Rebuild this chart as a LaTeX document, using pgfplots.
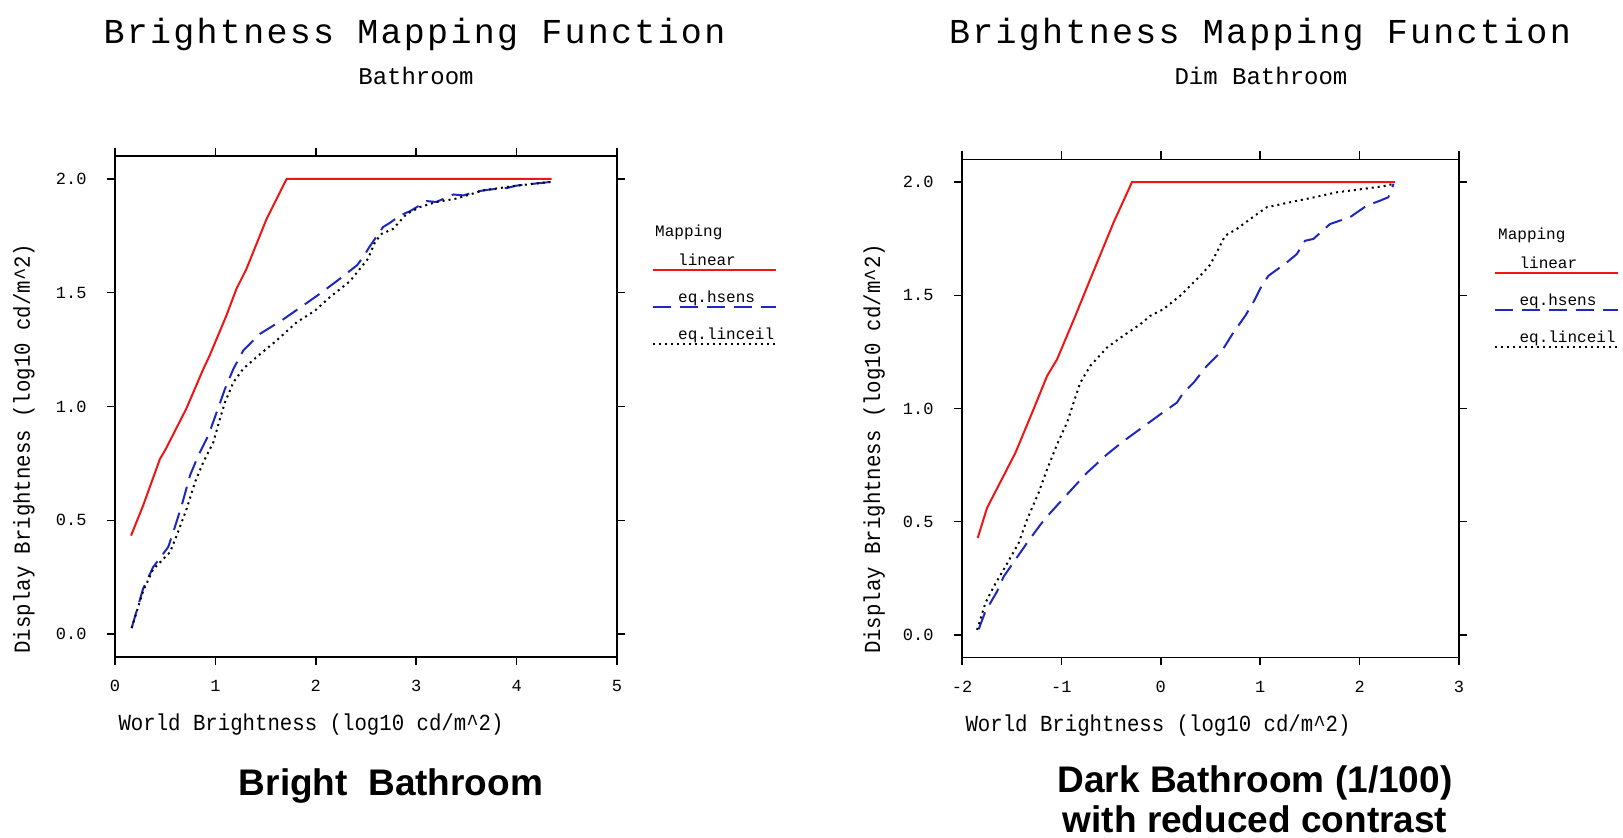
\documentclass[border=0pt]{standalone}
\usepackage{fontspec}
\usepackage{pgfplots}
\pgfplotsset{compat=1.18}
\setmainfont{Liberation Sans}
\newfontfamily\monofont{Liberation Mono}
\newfontfamily\titlemono[LetterSpace=6.5]{Liberation Mono}
\newfontfamily\labmono[FakeStretch=0.9]{Liberation Mono}
\definecolor{cred}{RGB}{240,20,20}
\definecolor{cblue}{RGB}{30,40,190}
\newcommand{\tickf}{\fontsize{17}{17}\monofont}
\newcommand{\legf}{\fontsize{16}{16}\monofont}
\newcommand{\labf}{\fontsize{23}{23}\labmono}
\pgfplotsset{
  bmf/.style={
    scale only axis, anchor=south west, clip=false,
    ymin=-0.1, ymax=2.1, ytick={0,0.5,1,1.5,2},
    tick align=outside, major tick length=8pt,
    axis line style={line width=1.8pt},
    tick style={black, line width=1.5pt},
    ticklabel style={font=\tickf},
    /pgf/number format/assume math mode=true,
    yticklabel style={xshift=-17pt, /pgf/number format/.cd, fixed, fixed zerofill, precision=1},
    xticklabel style={yshift=-12pt, /pgf/number format/.cd, fixed, precision=0},
    xlabel style={font=\labf, at={([yshift=-74pt]rel axis cs:0,0)}, anchor=base west},
    ylabel style={font=\labf, anchor=base west},
    legend style={at={(1.1215,0.8064)}, anchor=north west, draw=none, fill=none,
      inner sep=0pt, row sep=22pt, column sep=0pt,
      nodes={inner sep=0pt, text height=12pt, text depth=3pt, font=\legf}},
    legend cell align=left,
    legend image code/.code={\draw[##1, overlay] (-25pt,-9pt) -- (98pt,-9pt);},
  },
  linearst/.style={cred, line width=2pt},
  hsensst/.style={cblue, line width=2pt, dash pattern=on 18pt off 9pt},
  linceilst/.style={black, line width=2pt, dash pattern=on 2pt off 4pt},
}
\begin{document}
\begin{tikzpicture}[x=1pt,y=1pt]
\useasboundingbox (0,0) rectangle (1623,838);
% ---------------- left panel ----------------
\begin{axis}[bmf, at={(115pt,181pt)}, width=502pt, height=501pt,
  xmin=0, xmax=5, xtick={0,1,2,3,4,5},
  xlabel={World Brightness (log10 cd/m\textasciicircum 2)},
  ylabel={Display Brightness (log10 cd/m\textasciicircum 2)},
  ylabel style={at={([xshift=-85pt]rel axis cs:0,0)}}]
\addplot[linearst] coordinates {
(0.16,0.433) (0.28,0.565) (0.448,0.77) (0.498,0.807) (0.71,0.99) (0.88,1.165)
(0.943,1.224) (1.11,1.40) (1.21,1.517) (1.31,1.605) (1.51,1.824) (1.577,1.883)
(1.71,2.0) (4.35,2.0)};
\addlegendentry{linear}
\addplot[hsensst] coordinates {
(0.166,0.027) (0.28,0.20) (0.38,0.295) (0.53,0.383) (0.58,0.448) (0.664,0.565)
(0.747,0.697) (0.83,0.785) (0.93,0.873) (1.013,0.975) (1.096,1.078) (1.18,1.166)
(1.278,1.246) (1.444,1.319) (1.66,1.378) (1.876,1.444) (2.04,1.495) (2.24,1.561)
(2.41,1.62) (2.473,1.656) (2.523,1.693) (2.59,1.737) (2.67,1.788) (2.74,1.807)
(2.84,1.839) (2.94,1.858) (3.105,1.902) (3.2,1.898) (3.37,1.931) (3.47,1.927)
(3.6,1.944) (3.735,1.953) (3.9,1.959) (4.0,1.97) (4.166,1.978) (4.316,1.985) (4.35,1.985)};
\addlegendentry{eq.hsens}
\addplot[linceilst] coordinates {
(0.166,0.027) (0.28,0.19) (0.38,0.285) (0.548,0.36) (0.614,0.433) (0.714,0.551)
(0.797,0.668) (0.88,0.756) (0.98,0.844) (1.046,0.947) (1.096,1.019) (1.18,1.107)
(1.278,1.166) (1.41,1.217) (1.61,1.29) (1.81,1.37) (1.99,1.42) (2.14,1.48)
(2.34,1.55) (2.44,1.605) (2.52,1.649) (2.59,1.722) (2.656,1.758) (2.77,1.78)
(2.905,1.846) (3.04,1.876) (3.2,1.898) (3.4,1.913) (3.67,1.949) (4.0,1.97)
(4.316,1.985) (4.35,1.985)};
\addlegendentry{eq.linceil}
\node[anchor=west, font=\legf, inner sep=0pt] at ([xshift=38pt,yshift=-76pt]rel axis cs:1,1) {Mapping};
\end{axis}
% ---------------- right panel ----------------
\begin{axis}[bmf, at={(962pt,180.5pt)}, width=497pt, height=498pt,
  xmin=-2, xmax=3, xtick={-2,-1,0,1,2,3},
  xlabel={World Brightness (log10 cd/m\textasciicircum 2)},
  ylabel={Display Brightness (log10 cd/m\textasciicircum 2)},
  ylabel style={at={([xshift=-82pt]rel axis cs:0,0)}}]
\addplot[linearst] coordinates {
(-1.842,0.428) (-1.748,0.561) (-1.463,0.804) (-1.295,0.981) (-1.145,1.143)
(-1.044,1.217) (-0.86,1.409) (-0.71,1.571) (-0.475,1.822) (-0.29,2.0) (2.356,2.0)};
\addlegendentry{linear}
\addplot[hsensst] coordinates {
(-1.832,0.025) (-1.765,0.103) (-1.647,0.192) (-1.58,0.258) (-1.463,0.332)
(-1.346,0.406) (-1.211,0.487) (-1.128,0.531) (-0.944,0.62) (-0.743,0.716)
(-0.542,0.797) (-0.375,0.856) (-0.19,0.915) (-0.006,0.974) (0.162,1.026)
(0.228,1.07) (0.33,1.114) (0.463,1.188) (0.614,1.254) (0.731,1.336) (0.849,1.409)
(0.932,1.47) (1.016,1.543) (1.082,1.586) (1.267,1.645) (1.368,1.682) (1.451,1.741)
(1.535,1.749) (1.702,1.815) (1.903,1.845) (2.071,1.896) (2.205,1.918) (2.288,1.933)
(2.32,1.962) (2.34,1.992)};
\addlegendentry{eq.hsens}
\addplot[linceilst] coordinates {
(-1.848,0.022) (-1.765,0.14) (-1.68,0.214) (-1.563,0.302) (-1.43,0.406)
(-1.346,0.509) (-1.23,0.627) (-1.145,0.73) (-1.044,0.841) (-0.944,0.937)
(-0.877,1.026) (-0.81,1.114) (-0.71,1.188) (-0.542,1.269) (-0.375,1.322)
(-0.207,1.372) (-0.107,1.409) (0.027,1.439) (0.195,1.498) (0.396,1.586)
(0.497,1.635) (0.563,1.69) (0.647,1.763) (0.764,1.793) (0.899,1.837) (1.066,1.889)
(1.30,1.911) (1.501,1.929) (1.77,1.955) (2.037,1.97) (2.238,1.982) (2.34,1.992)};
\addlegendentry{eq.linceil}
\node[anchor=west, font=\legf, inner sep=0pt] at ([xshift=39pt,yshift=-76pt]rel axis cs:1,1) {Mapping};
\end{axis}
% ---------------- titles and captions ----------------
\node[anchor=base, inner sep=0pt, font=\fontsize{35}{35}\titlemono] at (414.5,794.5) {Brightness Mapping Function};
\node[anchor=base, inner sep=0pt, font=\fontsize{24}{24}\monofont] at (416,753) {Bathroom};
\node[anchor=base, inner sep=0pt, font=\fontsize{35}{35}\titlemono] at (1260,794.5) {Brightness Mapping Function};
\node[anchor=base, inner sep=0pt, font=\fontsize{24}{24}\monofont] at (1261,753) {Dim Bathroom};
\node[anchor=base, inner sep=0pt, font=\fontsize{37}{37}\selectfont\bfseries] at (391,42) {Bright\ \ Bathroom};
\node[anchor=base, inner sep=0pt, font=\fontsize{37}{37}\selectfont\bfseries] at (1255,45) {Dark Bathroom (1/100)};
\node[anchor=base, inner sep=0pt, font=\fontsize{37}{37}\selectfont\bfseries] at (1255,5) {with reduced contrast};
\end{tikzpicture}
\end{document}
